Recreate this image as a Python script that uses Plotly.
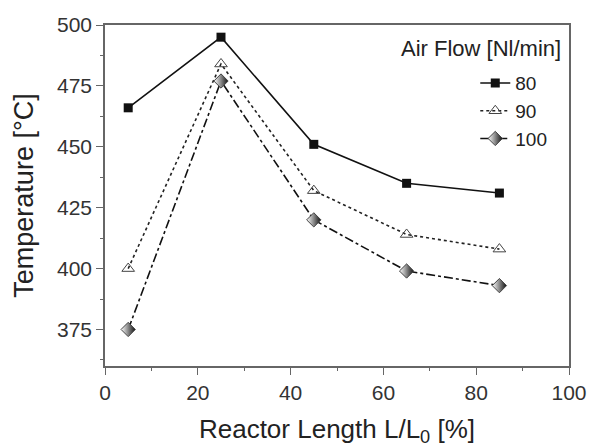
import plotly.graph_objects as go

x_pos = [5, 25, 45, 65, 85]
t_80 = [466, 495, 451, 435, 431]
t_90 = [400, 484, 432, 414, 408]
t_100 = [375, 477, 420, 399, 393]
series_names = ["80", "90", "100"]

FONT = "Liberation Sans, Arial, sans-serif"

fig = go.Figure()
fig.add_trace(go.Scatter(x=x_pos, y=t_80, name=series_names[0], mode="lines+markers",
                         line=dict(color="#111", width=1.6, dash="solid"),
                         marker=dict(symbol="square", size=9, color="#111")))
fig.add_trace(go.Scatter(x=x_pos, y=t_90, name=series_names[1], mode="lines+markers",
                         line=dict(color="#222", width=1.6, dash="dot"),
                         marker=dict(symbol="triangle-up-open", size=11, color="#444",
                                     line=dict(width=1))))
fig.add_trace(go.Scatter(x=x_pos, y=t_100, name=series_names[2], mode="lines+markers",
                         line=dict(color="#111", width=1.6, dash="dashdot"),
                         marker=dict(symbol="diamond", size=11, color="white",
                                     gradient=dict(type="horizontal", color="#111"),
                                     line=dict(width=1, color="#444"))))

axis_common = dict(showline=True, linecolor="#666", linewidth=1.5, mirror=True,
                   ticks="outside", ticklen=7, tickcolor="#666", tickwidth=1.2,
                   showgrid=False, zeroline=False, automargin=False,
                   tickfont=dict(family=FONT, size=21, color="#333"))

fig.update_xaxes(range=[0, 100], tick0=0, dtick=20,
                 minor=dict(ticks="outside", ticklen=3, dtick=10, tick0=0, tickcolor="#666"),
                 title=dict(text="Reactor Length L/L<sub>0</sub> [%]",
                            font=dict(family=FONT, size=26, color="#222"), standoff=19),
                 **axis_common)
fig.update_yaxes(range=[360, 500], tick0=375, dtick=25,
                 minor=dict(ticks="outside", ticklen=3, dtick=12.5, tick0=375, tickcolor="#666"),
                 title=dict(text="Temperature [°C]",
                            font=dict(family=FONT, size=27, color="#222"), standoff=16),
                 **axis_common)

fig.add_annotation(text="Air Flow [Nl/min]", xref="paper", yref="paper",
                   x=0.987, y=0.93, xanchor="right", yanchor="middle", showarrow=False,
                   font=dict(family=FONT, size=22, color="#222"))

fig.update_layout(
    width=592, height=447,
    margin=dict(l=105, r=23, t=25, b=81),
    paper_bgcolor="white", plot_bgcolor="white",
    font=dict(family=FONT, color="#222"),
    legend=dict(x=0.798, y=0.885, xanchor="left", yanchor="top",
                bgcolor="rgba(0,0,0,0)", font=dict(family=FONT, size=19, color="#222"),
                itemwidth=30, tracegroupgap=0),
    showlegend=True,
)

fig.write_html("out.html", config={"displayModeBar": False},
               post_script="document.body.style.margin='0';")
